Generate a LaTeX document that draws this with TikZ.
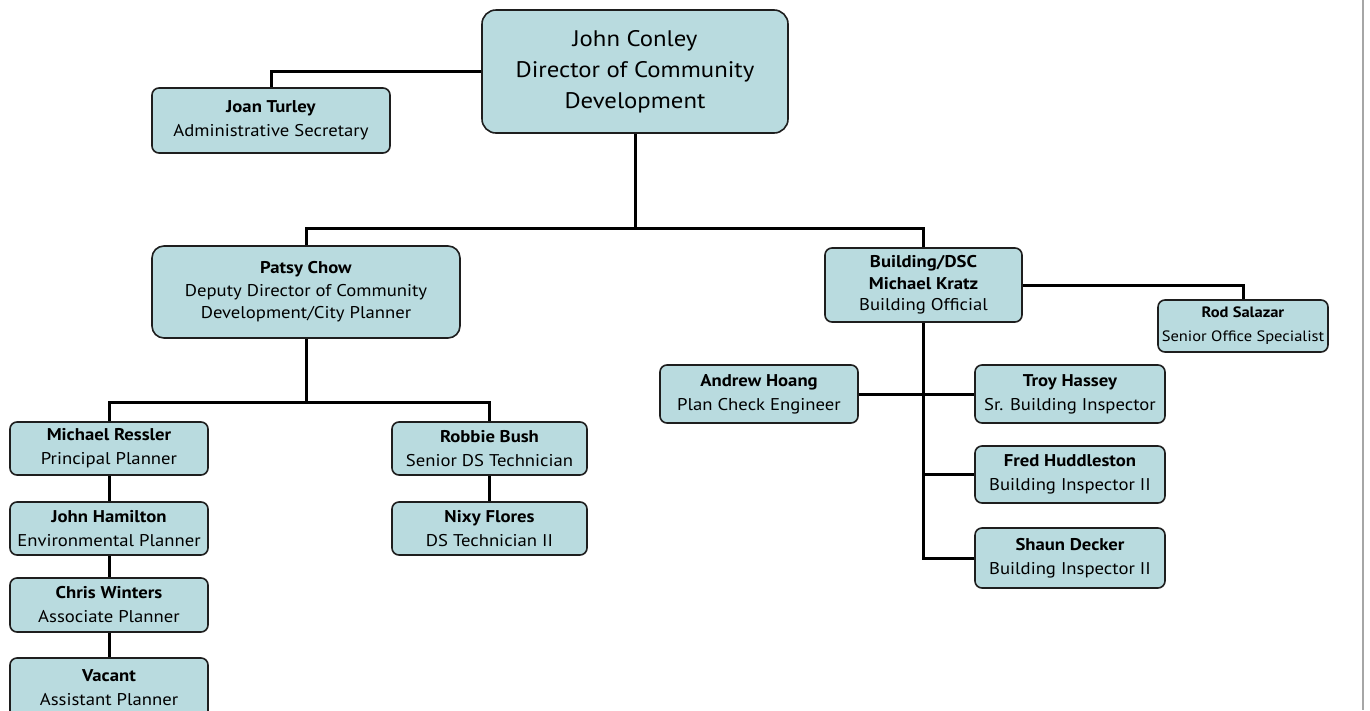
\documentclass[tikz,border=0pt]{standalone}
\usepackage{fontspec}
\setmainfont{PT Sans}[FakeStretch=1.1]
\definecolor{boxblue}{HTML}{B9DBDF}
\definecolor{edge}{HTML}{1E1E1E}
\begin{document}
\begin{tikzpicture}[x=1pt,y=-1pt,
  box/.style={draw=edge, fill=boxblue, line width=1.6pt, rounded corners=7pt, align=center, inner sep=0pt,
    font=\fontsize{17}{24}\selectfont},
  bigbox/.style={box, rounded corners=14pt, font=\fontsize{22.5}{31}\selectfont},
  link/.style={line width=3pt, draw=black}]
\useasboundingbox (0,0) rectangle (1370,710);
\fill[white] (0,0) rectangle (1370,710);
\draw[gray!70, line width=1.2pt] (1363,0) -- (1363,710);

% nodes
\node[bigbox, minimum width=306pt, minimum height=123pt] (conley) at (635,71.5)
  {John Conley\\Director of Community\\Development};
\node[box, minimum width=238pt, minimum height=65pt] (joan) at (271,120.5)
  {\textbf{Joan Turley}\\Administrative Secretary};
\node[box, rounded corners=12pt, minimum width=308pt, minimum height=92pt, font=\fontsize{17}{22.5}\selectfont] (patsy) at (306,292)
  {\textbf{Patsy Chow}\\Deputy Director of Community\\Development/City Planner};
\node[box, minimum width=197pt, minimum height=74pt, font=\fontsize{17}{21.5}\selectfont] (bldg) at (923.5,285)
  {\textbf{Building/DSC}\\\textbf{Michael Kratz}\\Building Official};
\node[box, minimum width=170pt, minimum height=52pt, font=\fontsize{15}{24}\selectfont] (rod) at (1243,326)
  {\textbf{Rod Salazar}\\Senior Office Specialist};
\node[box, minimum width=198pt, minimum height=58pt] (andrew) at (759,394)
  {\textbf{Andrew Hoang}\\Plan Check Engineer};
\node[box, minimum width=190pt, minimum height=58pt] (troy) at (1070,394)
  {\textbf{Troy Hassey}\\Sr. Building Inspector};
\node[box, minimum width=190pt, minimum height=57pt] (fred) at (1070,474.5)
  {\textbf{Fred Huddleston}\\Building Inspector II};
\node[box, minimum width=190pt, minimum height=60pt] (shaun) at (1070,558)
  {\textbf{Shaun Decker}\\Building Inspector II};
\node[box, minimum width=198pt, minimum height=53pt] (ressler) at (109,448.5)
  {\textbf{Michael Ressler}\\Principal Planner};
\node[box, minimum width=198pt, minimum height=53pt] (hamilton) at (109,528.5)
  {\textbf{John Hamilton}\\Environmental Planner};
\node[box, minimum width=198pt, minimum height=54pt] (winters) at (109,605)
  {\textbf{Chris Winters}\\Associate Planner};
\node[box, minimum width=198pt, minimum height=60pt] (vacant) at (109,688)
  {\textbf{Vacant}\\Assistant Planner};
\node[box, minimum width=195pt, minimum height=53pt] (robbie) at (489.5,448.5)
  {\textbf{Robbie Bush}\\Senior DS Technician};
\node[box, minimum width=195pt, minimum height=53pt] (nixy) at (489.5,528.5)
  {\textbf{Nixy Flores}\\DS Technician II};

% junctions
\coordinate (bus1) at (635,228);
\coordinate (bus2) at (306,402);

% connectors
\draw[link] (conley.west) -| (joan.north);
\draw[link] (conley.south) -- (bus1);
\draw[link] (patsy.north) |- (bus1) -| (bldg.north);
\draw[link] (bldg.east) -| (rod.north);
\draw[link] (bldg.south) |- (shaun.west);
\draw[link] (bldg.south |- fred.west) -- (fred.west);
\draw[link] (andrew.east) -- (troy.west);
\draw[link] (patsy.south) -- (bus2);
\draw[link] (ressler.north) |- (bus2) -| (robbie.north);
\draw[link] (ressler.south) -- (hamilton.north);
\draw[link] (hamilton.south) -- (winters.north);
\draw[link] (winters.south) -- (vacant.north);
\draw[link] (robbie.south) -- (nixy.north);
\end{tikzpicture}
\end{document}
